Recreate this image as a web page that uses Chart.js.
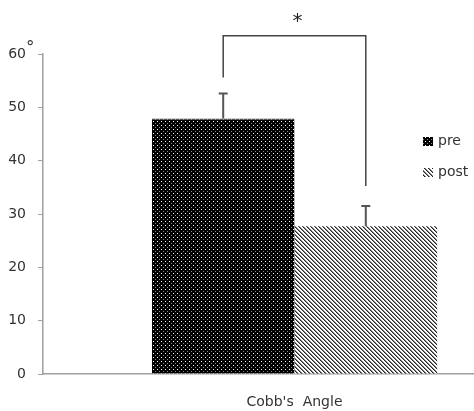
<!DOCTYPE html>
<html>
<head>
<meta charset="utf-8">
<script src="https://cdn.jsdelivr.net/npm/chart.js@4.4.1/dist/chart.umd.min.js"></script>
<style>
  html, body { margin: 0; padding: 0; background: #fff; overflow: hidden; }
  #wrap { width: 560px; height: 411px; position: relative; }
</style>
</head>
<body>
<div id="wrap"><canvas id="chart"></canvas></div>
<script>
// data
const categories = ["Cobb's  Angle"];
const seriesNames = ['pre', 'post'];
const preValues = [47.9];
const postValues = [27.7];
const preSD = [4.7];
const postSD = [3.8];
const yTicks = [0, 10, 20, 30, 40, 50, 60];
const bracketLevel = 63.4;   // height of the significance bracket
const sigMark = '*';

const axisColor = '#a0a0a0';
const textColor = '#333';

// fill patterns
function dotPattern() {
    const c = document.createElement('canvas');
    c.width = 4; c.height = 4;
    const g = c.getContext('2d');
    g.fillStyle = '#000';
    g.fillRect(0, 0, 4, 4);
    g.fillStyle = '#fff';
    g.fillRect(1, 1, 1, 1);
    g.fillStyle = '#8a8a8a';
    g.fillRect(3, 3, 1, 1);
    return g.createPattern(c, 'repeat');
}

function stripePattern() {
    const c = document.createElement('canvas');
    c.width = 4; c.height = 4;
    const g = c.getContext('2d');
    g.fillStyle = '#fff';
    g.fillRect(0, 0, 4, 4);
    for (let i = 0; i < 4; i++) {
        g.fillStyle = '#222';
        g.fillRect(i, i, 1, 1);
        g.fillStyle = '#888';
        g.fillRect((i + 1) % 4, i, 1, 1);
    }
    return g.createPattern(c, 'repeat');
}

const preFill = dotPattern();
const postFill = stripePattern();

// error bars, bracket, legend and the degree mark
const extras = {
    id: 'extras',
    afterDraw(chart) {
        const ctx = chart.ctx;
        const y = chart.scales.y;
        ctx.save();

        const sets = [
            { meta: chart.getDatasetMeta(0), vals: preValues, sd: preSD },
            { meta: chart.getDatasetMeta(1), vals: postValues, sd: postSD }
        ];
        const tops = [];
        ctx.strokeStyle = '#555';
        ctx.lineWidth = 2;
        sets.forEach(s => {
            s.meta.data.forEach((bar, i) => {
                const yTop = y.getPixelForValue(s.vals[i] + s.sd[i]);
                ctx.beginPath();
                ctx.moveTo(bar.x, bar.y);
                ctx.lineTo(bar.x, yTop);
                ctx.moveTo(bar.x - 4.5, yTop);
                ctx.lineTo(bar.x + 4.5, yTop);
                ctx.stroke();
                tops.push({ x: bar.x, y: yTop });
            });
        });

        // significance bracket
        const by = y.getPixelForValue(bracketLevel);
        ctx.strokeStyle = '#444';
        ctx.lineWidth = 1.5;
        ctx.beginPath();
        ctx.moveTo(tops[0].x, tops[0].y - 16);
        ctx.lineTo(tops[0].x, by);
        ctx.lineTo(tops[1].x, by);
        ctx.lineTo(tops[1].x, tops[1].y - 20);
        ctx.stroke();

        ctx.fillStyle = '#222';
        ctx.font = '20px "DejaVu Sans"';
        ctx.textAlign = 'center';
        ctx.textBaseline = 'middle';
        ctx.fillText(sigMark, (tops[0].x + tops[1].x) / 2 + 3, by - 14);

        // degree sign next to the top tick
        ctx.font = '17px "DejaVu Sans"';
        ctx.fillStyle = textColor;
        ctx.textAlign = 'left';
        ctx.fillText('°', 26, y.getPixelForValue(60) - 5);

        // legend
        const fills = [preFill, postFill];
        ctx.font = '14px "DejaVu Sans"';
        ctx.textBaseline = 'middle';
        seriesNames.forEach((name, i) => {
            const ly = 141 + i * 31;
            ctx.fillStyle = fills[i];
            ctx.fillRect(423, ly - 4, 10, 9);
            ctx.fillStyle = textColor;
            ctx.fillText(name, 438, ly);
        });

        ctx.restore();
    }
};

new Chart(document.getElementById('chart'), {
    type: 'bar',
    data: {
        labels: categories,
        datasets: [
            { label: seriesNames[0], data: preValues, backgroundColor: preFill, borderColor: '#444', borderWidth: { top: 1, left: 0, right: 0, bottom: 0 }, borderSkipped: false },
            { label: seriesNames[1], data: postValues, backgroundColor: postFill, borderWidth: 0 }
        ]
    },
    options: {
        responsive: true,
        maintainAspectRatio: false,
        animation: false,
        layout: { padding: { top: 54, left: 6, right: 14, bottom: 0 } },
        datasets: { bar: { categoryPercentage: 0.567, barPercentage: 1.0 } },
        plugins: { legend: { display: false }, tooltip: { enabled: false } },
        scales: {
            x: {
                grid: { display: false },
                border: { display: true, color: axisColor, width: 1.5 },
                ticks: { color: textColor, font: { family: 'DejaVu Sans', size: 14 }, padding: 12 },
                afterFit(scale) { scale.height = 37; }
            },
            y: {
                min: 0,
                max: 60,
                afterBuildTicks(scale) { scale.ticks = yTicks.map(v => ({ value: v })); },
                grid: { drawOnChartArea: false, color: axisColor, tickLength: 5 },
                border: { display: true, color: axisColor, width: 1.5 },
                ticks: { color: textColor, font: { family: 'DejaVu Sans', size: 14 }, padding: 12 },
                afterFit(scale) { scale.width = 37; }
            }
        }
    },
    plugins: [extras]
});
</script>
</body>
</html>
